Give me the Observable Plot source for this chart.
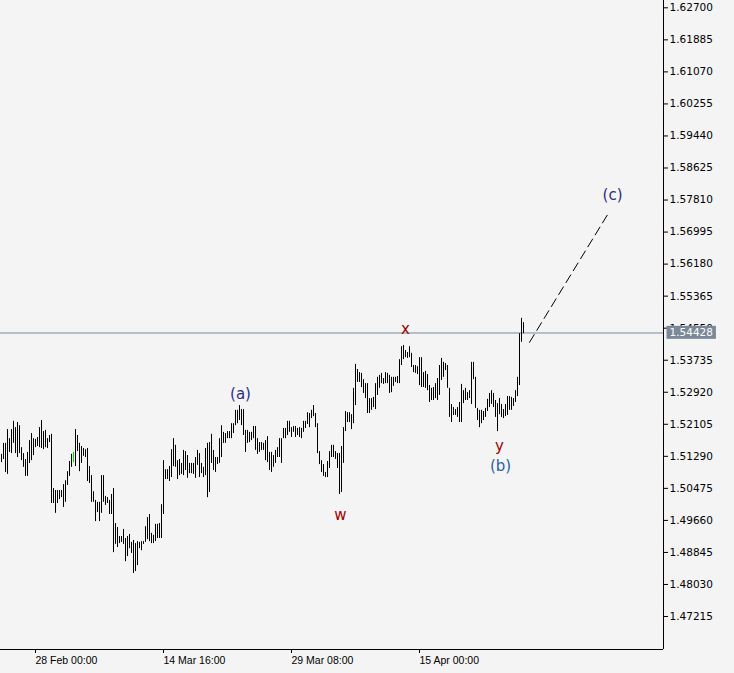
<!DOCTYPE html>
<html><head><meta charset="utf-8">
<script src="https://cdn.jsdelivr.net/npm/d3@7"></script>
<script src="https://cdn.jsdelivr.net/npm/@observablehq/plot@0.6"></script>
<style>
html,body{margin:0;padding:0;background:#f4f4f4;}
#chart svg{display:block;}
</style></head><body><div id="chart"></div>
<script>
// H4 bars: high / low per bar (index 0 = leftmost bar)
const highs = [
1.5134,1.5162,1.5162,1.5197,1.5174,1.5197,1.5218,1.5202,1.5215,1.5207,
1.5151,1.5136,1.5121,1.5139,1.5169,1.5187,1.5174,1.5172,1.5177,1.5202,
1.5220,1.5192,1.5195,1.5174,1.5182,1.5185,1.5047,1.5042,1.5042,1.5042,
1.5042,1.5057,1.5067,1.5090,1.5116,1.5134,1.5139,1.5197,1.5182,1.5162,
1.5154,1.5149,1.5146,1.5149,1.5103,1.5080,1.5039,1.5017,1.5012,1.5012,
1.5080,1.5080,1.5027,1.5024,1.5017,1.5032,1.5047,1.4958,1.4948,1.4925,
1.4925,1.4943,1.4920,1.4925,1.4930,1.4910,1.4915,1.4907,1.4912,1.4910,
1.4912,1.4912,1.4950,1.4973,1.4981,1.4933,1.4928,1.4956,1.4956,1.4958,
1.5006,1.5118,1.5095,1.5095,1.5103,1.5146,1.5174,1.5157,1.5118,1.5121,
1.5111,1.5144,1.5141,1.5131,1.5111,1.5111,1.5111,1.5126,1.5144,1.5136,
1.5111,1.5101,1.5149,1.5162,1.5164,1.5185,1.5144,1.5126,1.5126,1.5174,
1.5207,1.5190,1.5187,1.5192,1.5192,1.5212,1.5212,1.5246,1.5246,1.5258,
1.5248,1.5248,1.5195,1.5195,1.5190,1.5190,1.5205,1.5205,1.5174,1.5164,
1.5164,1.5162,1.5169,1.5179,1.5139,1.5139,1.5131,1.5144,1.5151,1.5174,
1.5174,1.5200,1.5200,1.5218,1.5218,1.5202,1.5205,1.5205,1.5200,1.5202,
1.5200,1.5218,1.5218,1.5240,1.5238,1.5246,1.5258,1.5238,1.5212,1.5141,
1.5118,1.5108,1.5088,1.5116,1.5141,1.5157,1.5157,1.5141,1.5136,1.5136,
1.5154,1.5202,1.5243,1.5240,1.5240,1.5235,1.5302,1.5363,1.5350,1.5342,
1.5340,1.5324,1.5314,1.5314,1.5276,1.5276,1.5279,1.5314,1.5330,1.5335,
1.5340,1.5327,1.5342,1.5340,1.5335,1.5330,1.5330,1.5330,1.5332,1.5375,
1.5408,1.5411,1.5398,1.5393,1.5408,1.5391,1.5360,1.5360,1.5357,1.5380,
1.5380,1.5342,1.5345,1.5337,1.5309,1.5302,1.5304,1.5314,1.5327,1.5360,
1.5378,1.5368,1.5365,1.5360,1.5302,1.5261,1.5253,1.5248,1.5253,1.5266,
1.5312,1.5296,1.5302,1.5291,1.5296,1.5368,1.5368,1.5330,1.5251,1.5246,
1.5246,1.5243,1.5251,1.5274,1.5289,1.5296,1.5289,1.5271,1.5263,1.5276,
1.5261,1.5248,1.5261,1.5281,1.5281,1.5279,1.5276,1.5296,1.5330,1.5441,
1.5480,1.5469
];
const lows = [
1.5113,1.5121,1.5088,1.5083,1.5139,1.5136,1.5162,1.5136,1.5126,1.5136,
1.5118,1.5101,1.5078,1.5078,1.5111,1.5118,1.5131,1.5151,1.5154,1.5151,
1.5149,1.5146,1.5151,1.5149,1.5164,1.5009,1.5009,1.4984,1.5009,1.5019,
1.5024,1.4999,1.5012,1.5055,1.5078,1.5101,1.5113,1.5103,1.5141,1.5090,
1.5111,1.5129,1.5126,1.5065,1.5060,1.5012,1.5012,1.4963,1.4986,1.4963,
1.4984,1.5012,1.5004,1.5009,1.4981,1.4981,1.4884,1.4905,1.4897,1.4907,
1.4910,1.4905,1.4861,1.4874,1.4894,1.4882,1.4831,1.4836,1.4851,1.4894,
1.4889,1.4905,1.4910,1.4917,1.4912,1.4907,1.4907,1.4912,1.4920,1.4920,
1.4920,1.4981,1.5070,1.5070,1.5065,1.5075,1.5103,1.5101,1.5070,1.5080,
1.5083,1.5080,1.5093,1.5073,1.5085,1.5085,1.5083,1.5073,1.5106,1.5075,
1.5085,1.5075,1.5080,1.5024,1.5037,1.5111,1.5093,1.5088,1.5108,1.5111,
1.5126,1.5162,1.5162,1.5174,1.5174,1.5174,1.5187,1.5207,1.5212,1.5220,
1.5207,1.5182,1.5139,1.5162,1.5164,1.5169,1.5174,1.5144,1.5134,1.5139,
1.5144,1.5144,1.5118,1.5113,1.5093,1.5088,1.5101,1.5111,1.5126,1.5126,
1.5111,1.5174,1.5174,1.5182,1.5190,1.5177,1.5190,1.5177,1.5182,1.5177,
1.5174,1.5190,1.5200,1.5210,1.5202,1.5225,1.5230,1.5202,1.5136,1.5108,
1.5088,1.5078,1.5075,1.5075,1.5098,1.5126,1.5126,1.5121,1.5098,1.5032,
1.5037,1.5111,1.5192,1.5215,1.5215,1.5197,1.5212,1.5258,1.5317,1.5317,
1.5304,1.5289,1.5276,1.5238,1.5238,1.5246,1.5253,1.5248,1.5284,1.5302,
1.5314,1.5312,1.5314,1.5314,1.5289,1.5291,1.5307,1.5317,1.5314,1.5314,
1.5360,1.5375,1.5380,1.5378,1.5380,1.5355,1.5342,1.5340,1.5337,1.5309,
1.5304,1.5304,1.5302,1.5296,1.5266,1.5271,1.5271,1.5276,1.5271,1.5284,
1.5322,1.5330,1.5347,1.5302,1.5228,1.5215,1.5233,1.5233,1.5228,1.5215,
1.5215,1.5263,1.5271,1.5271,1.5276,1.5261,1.5324,1.5251,1.5220,1.5202,
1.5212,1.5220,1.5228,1.5243,1.5253,1.5261,1.5253,1.5228,1.5192,1.5235,
1.5228,1.5225,1.5230,1.5233,1.5246,1.5246,1.5256,1.5266,1.5281,1.5309,
1.5419,1.5441
];
const highlightedBar = 36;

// Price axis ticks
const priceTicks = [1.62700,1.61885,1.61070,1.60255,1.59440,1.58625,1.57810,1.56995,1.56180,1.55365,
  1.54550,1.53735,1.52920,1.52105,1.51290,1.50475,1.49660,1.48845,1.48030,1.47215];
const priceMin = 1.46376, priceMax = 1.62886;
const lastPrice = 1.54428;

// Time axis (bar index of each labelled bar)
const timeTickIndex = [17, 81, 145, 209];
const timeTickLabels = ["28 Feb 00:00", "14 Mar 16:00", "29 Mar 08:00", "15 Apr 00:00"];
const barCountMax = 331;

// Wave labels
const waveLabels = ["(a)", "w", "x", "y", "(b)", "(c)"];
const waveIndex  = [119.5, 169.5, 202, 249, 249.5, 305.5];
const wavePrice  = [1.52862, 1.49785, 1.54516, 1.5154, 1.5103, 1.57925];

// Projected path toward (c)
const projIndex = [264, 304];
const projPrice = [1.5419, 1.5752];

const bars = highs.map((h, i) => ({i, high: h, low: lows[i]}));
const waves = waveLabels.map((t, k) => ({t, i: waveIndex[k], p: wavePrice[k]}));
const proj = projIndex.map((i, k) => ({i, p: projPrice[k]}));
const waveColor = t => t === "(b)" ? "#2a5fa5" : (t.startsWith("(") ? "#2c2c86" : "#a00000");

const chart = Plot.plot({
  width: 734, height: 673,
  marginLeft: 0, marginRight: 71, marginTop: 0, marginBottom: 24,
  style: {background: "#f4f4f4", color: "#000", fontFamily: "'DejaVu Sans', sans-serif", fontSize: "10px"},
  x: {domain: [-0.5, barCountMax], axis: null},
  y: {domain: [priceMin, priceMax], axis: null},
  marks: [
    Plot.ruleY([lastPrice], {stroke: "#7a8898", strokeWidth: 1}),
    Plot.ruleX(bars, {x: "i", y1: "low", y2: "high", stroke: d => d.i === highlightedBar ? "#00d000" : "#000000", strokeWidth: 1}),
    Plot.line(proj, {x: "i", y: "p", stroke: "#000", strokeWidth: 1, strokeDasharray: "9,5"}),
    Plot.text(waves, {x: "i", y: "p", text: "t", fill: d => waveColor(d.t), fontSize: 15, fontFamily: "'DejaVu Sans', sans-serif"}),
    Plot.ruleX([barCountMax], {stroke: "#000"}),
    Plot.ruleY([priceMin], {stroke: "#000"}),
    Plot.axisY(priceTicks, {anchor: "right", tickSize: 4, tickPadding: 2, tickFormat: d => d.toFixed(5), fontSize: 10.5, label: null}),
    Plot.axisX(timeTickIndex, {anchor: "bottom", tickSize: 4, tickPadding: 3, tickFormat: d => timeTickLabels[timeTickIndex.indexOf(d)], textAnchor: "start", fontFamily: "'Liberation Sans', sans-serif", fontSize: 10.5, label: null}),
    Plot.text([lastPrice], {y: d => d, frameAnchor: "right", dx: 6, textAnchor: "start", text: d => d.toFixed(5), fill: "#ffffff", fontSize: 10.5, className: "pricetag"})
  ]
});
document.getElementById("chart").appendChild(chart);
d3.select(chart).selectAll(".pricetag text").each(function() {
  const b = this.getBBox();
  d3.select(this.parentNode).insert("rect", () => this)
    .attr("transform", this.getAttribute("transform"))
    .attr("x", b.x - 3).attr("y", b.y - 0.5)
    .attr("width", b.width + 6).attr("height", b.height + 1)
    .attr("fill", "#7a8898");
});
</script></body></html>
